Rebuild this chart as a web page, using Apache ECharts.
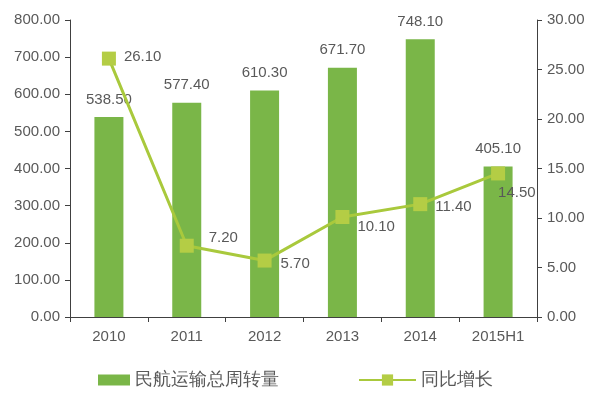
<!DOCTYPE html>
<html><head><meta charset="utf-8">
<script src="https://cdn.jsdelivr.net/npm/echarts@6/dist/echarts.min.js"></script>
<style>html,body{margin:0;padding:0;background:#fff}#c{width:600px;height:397px}</style>
</head><body><div id="c"></div>
<script>
const categories = ['2010','2011','2012','2013','2014','2015H1'];
const turnover = [538.5, 577.4, 610.3, 671.7, 748.1, 405.1];
const growth = [26.1, 7.2, 5.7, 10.1, 11.4, 14.5];
const leftTicks = [0, 100, 200, 300, 400, 500, 600, 700, 800];
const rightTicks = [0, 5, 10, 15, 20, 25, 30];

const growthLabelOffsets = [[2,-2],[9,-8],[3,3],[2,10],[2,3],[-13,19]];
const txt = '#595959';
const font = 'Liberation Sans, Arial, sans-serif';
const chart = echarts.init(document.getElementById('c'));
chart.setOption({
  animation: false,
  textStyle: {fontFamily: font},
  grid: {left: 70, right: 63, top: 20, bottom: 80, containLabel: false},
  legend: [
    {data: [{name: '民航运输总周转量', icon: 'rect'}], left: 93, top: 366, itemWidth: 32, itemHeight: 11, itemGap: 8,
     textStyle: {fontSize: 18, color: txt, fontFamily: font}},
    {data: ['同比增长'], left: 353, top: 366, itemWidth: 57, itemHeight: 14, itemGap: 8,
     textStyle: {fontSize: 18, color: txt, fontFamily: font}}
  ],
  xAxis: {
    type: 'category', data: categories, boundaryGap: true,
    axisLine: {lineStyle: {color: '#404040', width: 1}},
    axisTick: {show: true, alignWithLabel: false, length: 5, lineStyle: {color: '#404040'}},
    axisLabel: {color: txt, fontSize: 15, margin: 12}
  },
  yAxis: [
    {type: 'value', min: leftTicks[0], max: leftTicks[leftTicks.length-1], interval: 100,
     axisLine: {show: true, lineStyle: {color: '#404040'}},
     axisTick: {show: true, length: 5, lineStyle: {color: '#404040'}},
     splitLine: {show: false},
     axisLabel: {color: txt, fontSize: 15, margin: 10, formatter: v => v.toFixed(2)}},
    {type: 'value', min: rightTicks[0], max: rightTicks[rightTicks.length-1], interval: 5,
     axisLine: {show: true, lineStyle: {color: '#404040'}},
     axisTick: {show: true, length: 5, lineStyle: {color: '#404040'}},
     splitLine: {show: false},
     axisLabel: {color: txt, fontSize: 15, margin: 10, formatter: v => v.toFixed(2)}}
  ],
  series: [
    {name: '民航运输总周转量', type: 'bar', data: turnover, barWidth: 29, yAxisIndex: 0,
     itemStyle: {color: '#7ab648'},
     label: {show: true, position: 'top', distance: 10, color: txt, fontSize: 15, formatter: p => p.value.toFixed(2)}},
    {name: '同比增长', type: 'line', yAxisIndex: 1,
     data: growth.map((v, i) => ({value: v, label: {offset: growthLabelOffsets[i]}})),
     symbol: 'rect', symbolSize: 14,
     lineStyle: {color: '#a9c93c', width: 3},
     itemStyle: {color: '#b4cd45'},
     label: {show: true, position: 'right', distance: 6, color: txt, fontSize: 15, formatter: p => p.value.toFixed(2)}}
  ]
});
</script></body></html>
